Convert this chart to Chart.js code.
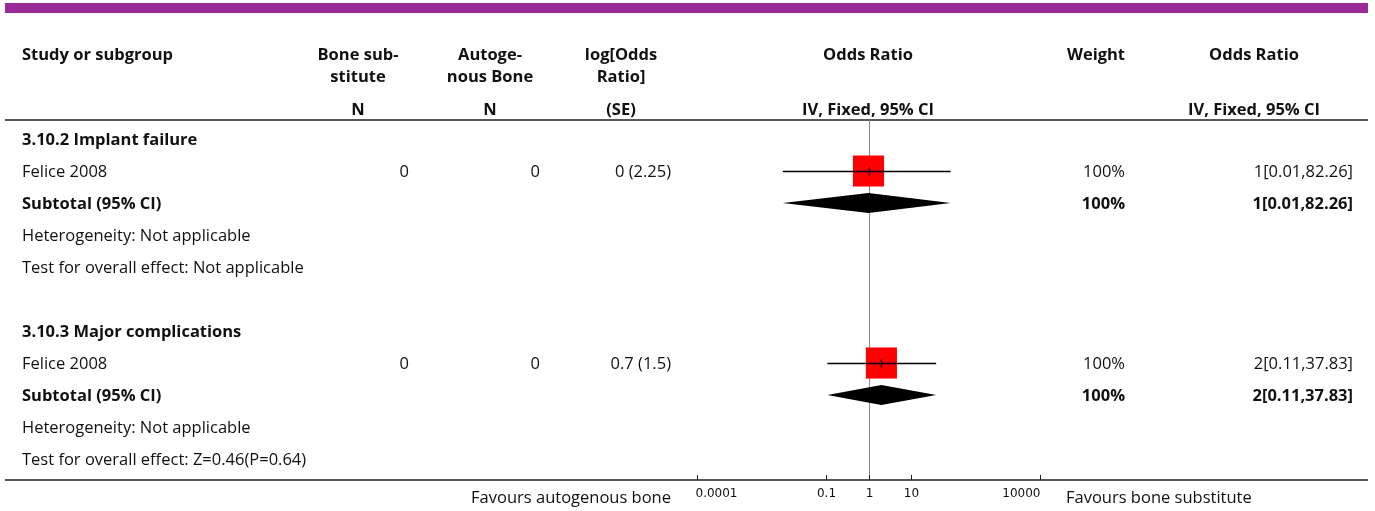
<!DOCTYPE html>
<html lang="en">
<head>
    <meta charset="UTF-8">
    <title>Forest plot</title>
    <style>
        body { margin: 0; background: #fff; }
        #wrap { width: 1375px; height: 511px; }
    </style>
</head>
<body>
    <div id="wrap"><canvas id="forest"></canvas></div>
    <script src="https://cdn.jsdelivr.net/npm/chart.js"></script>
    <script>
        // rows of the table, top to bottom (row index = position on the y scale)
        const rowLabels = [
            '3.10.2 Implant failure', 'Felice 2008', 'Subtotal (95% CI)',
            'Heterogeneity: Not applicable', 'Test for overall effect: Not applicable', '',
            '3.10.3 Major complications', 'Felice 2008', 'Subtotal (95% CI)',
            'Heterogeneity: Not applicable', 'Test for overall effect: Z=0.46(P=0.64)'
        ];
        const boldRows = [0, 2, 6, 8];

        // studies
        const studyRows = [1, 7];
        const boneN = ['0', '0'];
        const autoN = ['0', '0'];
        const logOrSe = ['0 (2.25)', '0.7 (1.5)'];
        const studyOR = [1, 2];
        const studyLow = [0.01, 0.11];
        const studyHigh = [82.26, 37.83];
        const studyWeight = ['100%', '100%'];
        const studyText = ['1[0.01,82.26]', '2[0.11,37.83]'];

        // subtotals
        const subRows = [2, 8];
        const subOR = [1, 2];
        const subLow = [0.01, 0.11];
        const subHigh = [82.26, 37.83];
        const subWeight = ['100%', '100%'];
        const subText = ['1[0.01,82.26]', '2[0.11,37.83]'];

        const axisTicks = [0.0001, 0.1, 1, 10, 10000];
        const tickLabels = ['0.0001', '0.1', '1', '10', '10000'];

        const FONT = '"Open Sans", sans-serif';
        const SIZE = '16.5px ';
        const INK = '#111';

        const forestPlugin = {
            id: 'forest',
            beforeDatasetsDraw(chart) {
                const ctx = chart.ctx;
                const xs = chart.scales.x, ys = chart.scales.y;
                const area = chart.chartArea;
                ctx.save();

                // purple band
                ctx.fillStyle = '#9c2a97';
                ctx.fillRect(5, 3, 1363, 10);

                // header
                ctx.fillStyle = INK;
                ctx.font = 'bold ' + SIZE + FONT;
                ctx.textBaseline = 'middle';
                ctx.textAlign = 'left';
                ctx.fillText('Study or subgroup', 22, 55);
                ctx.textAlign = 'center';
                ctx.fillText('Bone sub-', 358, 55);
                ctx.fillText('stitute', 358, 77);
                ctx.fillText('N', 358, 110);
                ctx.fillText('Autoge-', 490, 55);
                ctx.fillText('nous Bone', 490, 77);
                ctx.fillText('N', 490, 110);
                ctx.fillText('log[Odds', 621, 55);
                ctx.fillText('Ratio]', 621, 77);
                ctx.fillText('(SE)', 621, 110);
                ctx.fillText('Odds Ratio', 868, 55);
                ctx.fillText('IV, Fixed, 95% CI', 868, 110);
                ctx.fillText('Weight', 1096, 55);
                ctx.fillText('Odds Ratio', 1254, 55);
                ctx.fillText('IV, Fixed, 95% CI', 1254, 110);

                // rules
                ctx.strokeStyle = '#222';
                ctx.lineWidth = 1.5;
                ctx.beginPath();
                ctx.moveTo(5, area.top); ctx.lineTo(1368, area.top);
                ctx.moveTo(5, area.bottom); ctx.lineTo(1368, area.bottom);
                ctx.stroke();

                // line of no effect
                const x1 = Math.round(xs.getPixelForValue(1)) + 0.5;
                ctx.strokeStyle = '#888';
                ctx.lineWidth = 1;
                ctx.beginPath();
                ctx.moveTo(x1, area.top); ctx.lineTo(x1, area.bottom);
                ctx.stroke();

                // row labels
                ctx.textAlign = 'left';
                ctx.textBaseline = 'middle';
                rowLabels.forEach((t, i) => {
                    ctx.font = (boldRows.includes(i) ? 'bold ' : '') + SIZE + FONT;
                    ctx.fillText(t, 22, ys.getPixelForValue(i) + 1);
                });

                // study columns
                ctx.font = SIZE + FONT;
                ctx.textAlign = 'right';
                studyRows.forEach((r, i) => {
                    const y = ys.getPixelForValue(r) + 1;
                    ctx.fillText(boneN[i], 409, y);
                    ctx.fillText(autoN[i], 540, y);
                    ctx.fillText(logOrSe[i], 671, y);
                    ctx.fillText(studyWeight[i], 1125, y);
                    ctx.fillText(studyText[i], 1353, y);
                });
                ctx.font = 'bold ' + SIZE + FONT;
                subRows.forEach((r, i) => {
                    const y = ys.getPixelForValue(r) + 1;
                    ctx.fillText(subWeight[i], 1125, y);
                    ctx.fillText(subText[i], 1353, y);
                });

                // diamonds
                ctx.fillStyle = '#000';
                subRows.forEach((r, i) => {
                    const y = ys.getPixelForValue(r);
                    const xl = xs.getPixelForValue(subLow[i]);
                    const xm = xs.getPixelForValue(subOR[i]);
                    const xr = xs.getPixelForValue(subHigh[i]);
                    ctx.beginPath();
                    ctx.moveTo(xl, y);
                    ctx.lineTo(xm, y - 10);
                    ctx.lineTo(xr, y);
                    ctx.lineTo(xm, y + 10);
                    ctx.closePath();
                    ctx.fill();
                });

                // axis ticks and labels
                ctx.strokeStyle = '#222';
                ctx.lineWidth = 1;
                ctx.fillStyle = INK;
                ctx.font = '12px "DejaVu Sans", sans-serif';
                ctx.textBaseline = 'middle';
                axisTicks.forEach((v, i) => {
                    const x = Math.round(xs.getPixelForValue(v)) + 0.5;
                    ctx.beginPath();
                    ctx.moveTo(x, area.bottom); ctx.lineTo(x, area.bottom - 5);
                    ctx.stroke();
                    ctx.textAlign = i === 0 ? 'left' : (i === axisTicks.length - 1 ? 'right' : 'center');
                    ctx.fillText(tickLabels[i], i === 0 ? x - 2 : x, area.bottom + 14);
                });
                ctx.font = SIZE + FONT;
                ctx.textAlign = 'right';
                ctx.fillText('Favours autogenous bone', 671, area.bottom + 18);
                ctx.textAlign = 'left';
                ctx.fillText('Favours bone substitute', 1066, area.bottom + 18);
                ctx.restore();
            },
            afterDatasetsDraw(chart) {
                // confidence intervals on top of the squares
                const ctx = chart.ctx;
                const xs = chart.scales.x, ys = chart.scales.y;
                ctx.save();
                ctx.strokeStyle = '#000';
                ctx.lineWidth = 1.3;
                studyRows.forEach((r, i) => {
                    const y = Math.round(ys.getPixelForValue(r)) + 0.5;
                    const xm = Math.round(xs.getPixelForValue(studyOR[i])) + 0.5;
                    ctx.beginPath();
                    ctx.moveTo(xs.getPixelForValue(studyLow[i]), y);
                    ctx.lineTo(xs.getPixelForValue(studyHigh[i]), y);
                    ctx.moveTo(xm, y - 4); ctx.lineTo(xm, y + 4);
                    ctx.stroke();
                });
                ctx.restore();
            }
        };

        new Chart(document.getElementById('forest'), {
            type: 'scatter',
            data: {
                datasets: [{
                    data: studyRows.map((r, i) => ({ x: studyOR[i], y: r })),
                    pointStyle: 'rect',
                    pointRadius: 22,
                    pointHoverRadius: 22,
                    backgroundColor: '#ff0000',
                    borderWidth: 0
                }]
            },
            options: {
                responsive: true,
                maintainAspectRatio: false,
                animation: false,
                events: [],
                layout: { padding: { left: 697, right: 335, top: 120, bottom: 31 } },
                plugins: { legend: { display: false }, tooltip: { enabled: false } },
                scales: {
                    x: { type: 'logarithmic', min: 0.0001, max: 10000, display: false },
                    y: { type: 'linear', min: -0.594, max: 10.656, reverse: true, display: false }
                }
            },
            plugins: [forestPlugin]
        });
    </script>
</body>
</html>
